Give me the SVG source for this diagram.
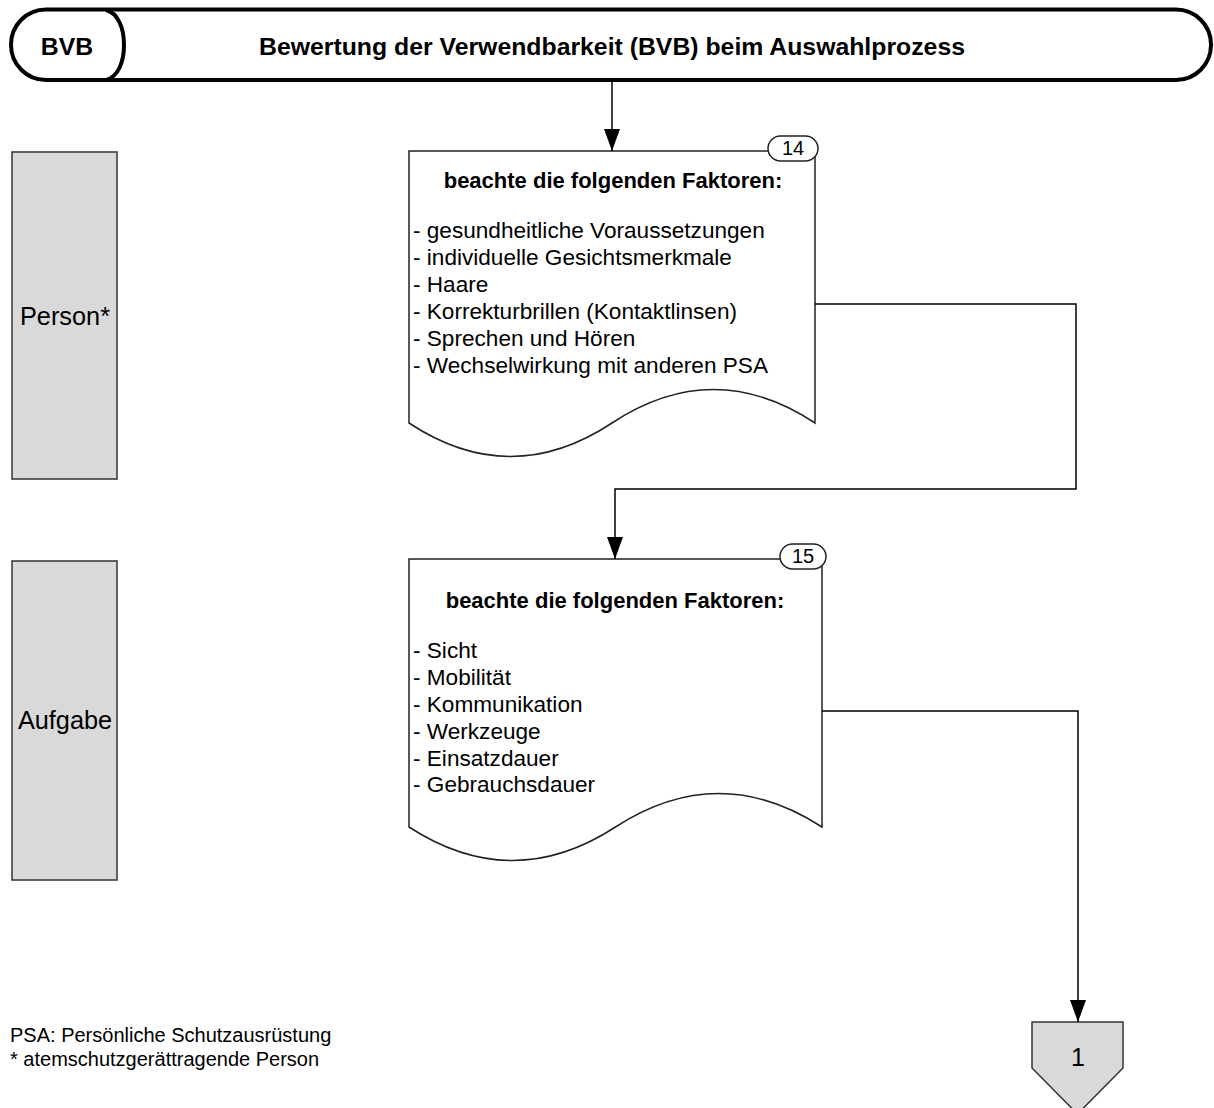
<svg xmlns="http://www.w3.org/2000/svg" width="1214" height="1108" viewBox="0 0 1214 1108">
<style>
text{font-family:"Liberation Sans",Arial,sans-serif;fill:#000}
.hdr{font-weight:bold;font-size:24.8px;text-anchor:middle}
.dt{font-weight:bold;font-size:22px;text-anchor:middle}
.li{font-size:22.6px}
.lane{font-size:25.3px;text-anchor:middle}
.fn{font-size:20px}
.doc{fill:#fff;stroke:#222;stroke-width:1.5}
.lanebox{fill:#d9d9d9;stroke:#333;stroke-width:1.5}
.badge{fill:#fff;stroke:#222;stroke-width:1.5}
.bt{font-size:20px;text-anchor:middle}
.con{fill:none;stroke:#000;stroke-width:1.5}
</style>
<defs>
<marker id="arr" viewBox="0 0 22 16" refX="22" refY="8" markerWidth="22" markerHeight="16" markerUnits="userSpaceOnUse" orient="auto">
<path d="M0,0 L22,8 L0,16 Z" fill="#000"/>
</marker>
</defs>
<g id="header">
<rect x="11" y="9.5" width="1200" height="70.5" rx="35" ry="35" fill="#fff" stroke="#000" stroke-width="4"/>
<path d="M106,10 C118,13 124,28 124,45 C124,62 118,77 106,80" fill="none" stroke="#000" stroke-width="4"/>
<text class="hdr" x="67" y="55">BVB</text>
<text class="hdr" x="612" y="55">Bewertung der Verwendbarkeit (BVB) beim Auswahlprozess</text>
</g>
<g id="lane-person">
<rect class="lanebox" x="12" y="152" width="105" height="327"/>
<text class="lane" x="65" y="325">Person*</text>
</g>
<g id="lane-aufgabe">
<rect class="lanebox" x="12" y="561" width="105" height="319"/>
<text class="lane" x="65" y="729">Aufgabe</text>
</g>
<g id="doc14">
<path class="doc" d="M409,151 H815 V423 Q713.5,356 612,423 Q510.5,490 409,423 Z"/>
<rect class="badge" x="768" y="136" width="50" height="25" rx="12.5"/>
<text class="bt" x="793" y="155">14</text>
<text class="dt" x="613" y="188">beachte die folgenden Faktoren:</text>
<text class="li" x="413" y="238">- gesundheitliche Voraussetzungen</text>
<text class="li" x="413" y="265">- individuelle Gesichtsmerkmale</text>
<text class="li" x="413" y="292">- Haare</text>
<text class="li" x="413" y="319">- Korrekturbrillen (Kontaktlinsen)</text>
<text class="li" x="413" y="346">- Sprechen und Hören</text>
<text class="li" x="413" y="373">- Wechselwirkung mit anderen PSA</text>
</g>
<g id="doc15">
<path class="doc" d="M409,559 H822 V827 Q718.75,760 615.5,827 Q512.25,894 409,827 Z"/>
<rect class="badge" x="780" y="544" width="46" height="25" rx="12.5"/>
<text class="bt" x="803" y="563">15</text>
<text class="dt" x="615" y="608">beachte die folgenden Faktoren:</text>
<text class="li" x="413" y="658">- Sicht</text>
<text class="li" x="413" y="685">- Mobilität</text>
<text class="li" x="413" y="712">- Kommunikation</text>
<text class="li" x="413" y="739">- Werkzeuge</text>
<text class="li" x="413" y="766">- Einsatzdauer</text>
<text class="li" x="413" y="792">- Gebrauchsdauer</text>
</g>
<g id="offpage1">
<path d="M1032,1022 H1123 V1068 L1077.5,1114 L1032,1068 Z" fill="#d9d9d9" stroke="#333" stroke-width="1.5"/>
<text x="1078" y="1066" font-size="25" text-anchor="middle">1</text>
</g>
<g id="connectors">
<path class="con" d="M612,82 V151" marker-end="url(#arr)"/>
<path class="con" d="M815,304 H1076 V489 H615 V559" marker-end="url(#arr)"/>
<path class="con" d="M822,711 H1078 V1022" marker-end="url(#arr)"/>
</g>
<g id="footnote">
<text class="fn" x="10" y="1042">PSA: Persönliche Schutzausrüstung</text>
<text class="fn" x="10" y="1066">* atemschutzgerättragende Person</text>
</g>
</svg>
